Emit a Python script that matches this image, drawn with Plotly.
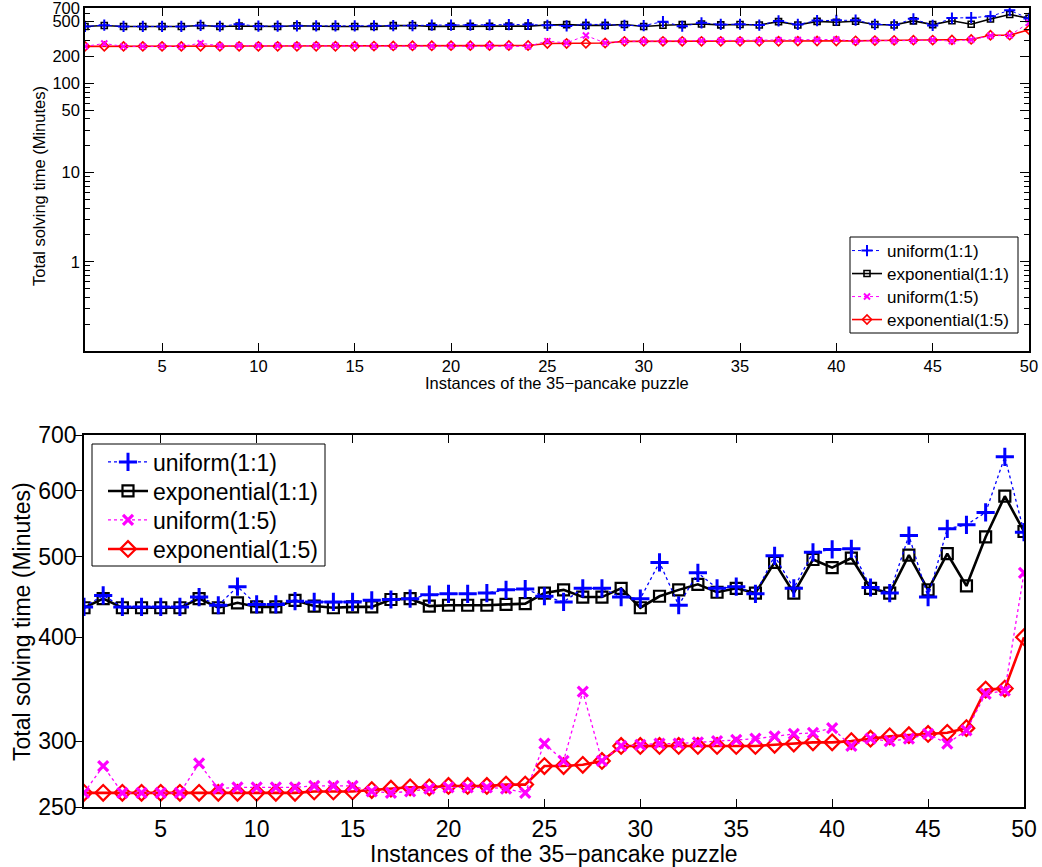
import plotly.graph_objects as go

# ---------------- data ----------------
instances = list(range(1, 51))

uniform_11 = [435, 449, 435, 435, 435, 435, 447, 437, 460, 438,
              438, 442, 441, 441, 441, 443, 444, 445, 450, 451,
              451, 452, 456, 457, 448, 441, 458, 458, 447, 445,
              492, 437, 478, 458, 460, 451, 501, 458, 506, 510,
              511, 459, 452, 530, 447, 540, 546, 565, 659, 535]

exponential_11 = [434, 445, 434, 434, 434, 434, 445, 434, 440, 435,
                  435, 443, 436, 434, 435, 435, 444, 445, 436, 437,
                  437, 437, 438, 439, 452, 456, 447, 447, 458, 434,
                  448, 456, 463, 453, 458, 452, 492, 452, 496, 485,
                  498, 458, 452, 502, 456, 504, 461, 528, 591, 536]

uniform_15 = [260, 280, 260, 260, 260, 260, 282, 263, 264, 264,
              264, 264, 265, 265, 265, 261, 260, 261, 263, 264,
              264, 264, 263, 260, 298, 284, 344, 284, 296, 297,
              298, 298, 299, 300, 301, 302, 304, 306, 307, 311,
              296, 302, 300, 302, 306, 298, 309, 342, 345, 478]

exponential_15 = [260, 260, 260, 260, 260, 260, 260, 260, 260, 260,
                  260, 260, 261, 261, 261, 262, 263, 264, 264, 265,
                  265, 265, 266, 266, 280, 280, 281, 284, 296, 296,
                  296, 296, 296, 296, 296, 296, 297, 298, 299, 299,
                  300, 302, 304, 305, 306, 307, 311, 346, 347, 400]

series_names = ["uniform(1:1)", "exponential(1:1)", "uniform(1:5)", "exponential(1:5)"]

x_ticks = [5, 10, 15, 20, 25, 30, 35, 40, 45, 50]
top_y_ticks = [1, 10, 50, 100, 200, 500, 700]
top_y_minor = [k * 10.0 ** e for e in (-1, 0, 1, 2) for k in range(2, 10)
               if k * 10.0 ** e <= 700 and k * 10.0 ** e not in (50, 200, 500, 700)]
bottom_y_ticks = [250, 300, 400, 500, 600, 700]

x_title = "Instances of the 35\u2212pancake puzzle"
y_title = "Total solving time (Minutes)"

# ---------------- layout helpers ----------------
W, H = 1042, 867
FONT = "Liberation Sans, Arial, Helvetica, sans-serif"


def fx(p):
    return p / W


def fy(p):
    return 1 - p / H


values = [uniform_11, exponential_11, uniform_15, exponential_15]
colors = ["#0000ff", "#000000", "#ff00ff", "#ff0000"]
dashes = ["dot", "solid", "dot", "solid"]
symbols = ["cross-thin", "square-open", "x-thin", "diamond-open"]
draw_order = [1, 0, 3, 2]

# per-panel styles: (line width, marker size, marker line width)
top_style = {0: (1.0, 8, 2.0), 1: (1.6, 6, 1.6), 2: (1.0, 6, 2.0), 3: (1.6, 7, 1.6)}
bot_style = {0: (1.3, 13, 3.0), 1: (2.6, 11, 2.2), 2: (1.3, 10, 3.2), 3: (2.6, 12, 2.2)}

# legend placement (one legend per row so the row spacing matches)
top_leg_rows = [251, 274, 297, 320]
bot_leg_rows = [462, 491, 520, 549]
top_leg_names = ["legend", "legend2", "legend3", "legend4"]
bot_leg_names = ["legend5", "legend6", "legend7", "legend8"]

fig = go.Figure()

for xa, ya, legs, style in [("x", "y", top_leg_names, top_style),
                            ("x2", "y2", bot_leg_names, bot_style)]:
    for i in draw_order:
        lw, ms, mlw = style[i]
        fig.add_trace(go.Scatter(
            x=instances, y=values[i], name=series_names[i],
            mode="lines+markers", xaxis=xa, yaxis=ya, legend=legs[i],
            line=dict(color=colors[i], width=lw, dash=dashes[i]),
            marker=dict(symbol=symbols[i], size=ms, color=colors[i],
                        line=dict(color=colors[i], width=mlw)),
            hoverinfo="skip",
        ))

axis_common = dict(showgrid=False, zeroline=False, showline=True, linecolor="black",
                   linewidth=1.5, tickcolor="black", tickwidth=1, automargin=False)

legend_layout = {}
for name, row in zip(top_leg_names, top_leg_rows):
    legend_layout[name] = dict(x=fx(847), y=fy(row), xanchor="left", yanchor="middle",
                               bgcolor="rgba(0,0,0,0)", borderwidth=0,
                               font=dict(size=17, family=FONT), itemwidth=30)
for name, row in zip(bot_leg_names, bot_leg_rows):
    legend_layout[name] = dict(x=fx(103), y=fy(row), xanchor="left", yanchor="middle",
                               bgcolor="rgba(0,0,0,0)", borderwidth=0,
                               font=dict(size=23, family=FONT), itemwidth=40)

fig.update_layout(
    width=W, height=H,
    margin=dict(l=0, r=0, t=0, b=0),
    paper_bgcolor="white", plot_bgcolor="white",
    font=dict(family=FONT, color="black"),
    showlegend=True,
    # top panel
    xaxis=dict(domain=[fx(85), fx(1029)], anchor="y", range=[1, 50],
               tickmode="array", tickvals=x_ticks, ticks="inside", ticklen=8,
               mirror="ticks", tickfont=dict(size=16.5), ticklabelstandoff=-1,
               **axis_common),
    yaxis=dict(domain=[fy(351), fy(8)], anchor="x", type="log",
               range=[-1, 2.84515], tickmode="array", tickvals=top_y_ticks,
               ticktext=[str(v) for v in top_y_ticks],
               ticks="inside", ticklen=9, mirror="ticks", tickfont=dict(size=16.5),
               ticklabeloverflow="allow",
               minor=dict(tickmode="array", tickvals=top_y_minor, ticks="inside",
                          ticklen=5, tickcolor="black", tickwidth=1),
               **axis_common),
    # bottom panel
    xaxis2=dict(domain=[fx(84), fx(1024)], anchor="y2", range=[1, 50],
                tickmode="array", tickvals=x_ticks, ticks="inside", ticklen=8,
                mirror="ticks", tickfont=dict(size=23), ticklabelstandoff=1,
                **axis_common),
    yaxis2=dict(domain=[fy(807), fy(435)], anchor="x2", type="log",
                range=[2.39794, 2.84515], tickmode="array", tickvals=bottom_y_ticks,
                ticktext=[str(v) for v in bottom_y_ticks],
                ticks="outside", ticklen=7, mirror=True, tickfont=dict(size=23),
                ticklabelstandoff=-6, ticklabeloverflow="allow", **axis_common),
    yaxis3=dict(overlaying="y2", anchor="x2", side="right", type="log",
                range=[2.39794, 2.84515], tickmode="array", tickvals=bottom_y_ticks,
                ticks="inside", ticklen=8, showticklabels=False, showline=False,
                showgrid=False, zeroline=False, tickcolor="black", tickwidth=1,
                automargin=False),
    shapes=[
        dict(type="rect", xref="paper", yref="paper", x0=fx(850), x1=fx(1018),
             y0=fy(333), y1=fy(237), line=dict(color="black", width=1),
             fillcolor="white", layer="above"),
        dict(type="rect", xref="paper", yref="paper", x0=fx(92), x1=fx(325),
             y0=fy(566), y1=fy(444), line=dict(color="black", width=1),
             fillcolor="white", layer="above"),
    ],
    annotations=[
        dict(text=y_title, x=fx(39), y=fy(186), xref="paper", yref="paper",
             textangle=-90, showarrow=False, font=dict(size=16.5),
             xanchor="center", yanchor="middle"),
        dict(text=x_title, x=fx(557), y=fy(383), xref="paper", yref="paper",
             showarrow=False, font=dict(size=16.5), xanchor="center", yanchor="middle"),
        dict(text=y_title, x=fx(22), y=fy(622), xref="paper", yref="paper",
             textangle=-90, showarrow=False, font=dict(size=23),
             xanchor="center", yanchor="middle"),
        dict(text=x_title, x=fx(554), y=fy(854), xref="paper", yref="paper",
             showarrow=False, font=dict(size=23), xanchor="center", yanchor="middle"),
    ],
    **legend_layout,
)

fig.write_html("out.html")
